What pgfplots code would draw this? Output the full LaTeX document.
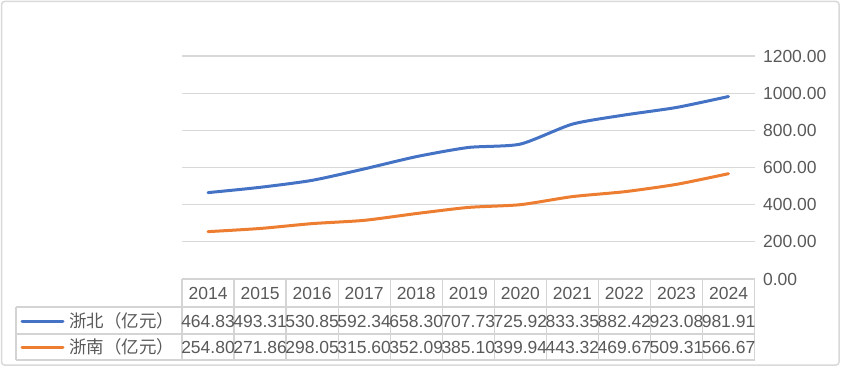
\documentclass[border=0pt]{standalone}
\usepackage{fontspec}
\setmainfont{Liberation Sans}
\newfontfamily\cjk{Noto Sans CJK SC}
\usepackage{pgfplots}
\pgfplotsset{compat=1.18}
\definecolor{cblue}{HTML}{4472C4}
\definecolor{corange}{HTML}{ED7D31}
\definecolor{txt}{HTML}{595959}
\definecolor{gridc}{HTML}{D9D9D9}
\definecolor{tabc}{HTML}{D4D4D4}
\newcommand{\fs}{\fontsize{17.5}{20}\selectfont}
\begin{document}
\begin{tikzpicture}
\path[use as bounding box] (0pt,0pt) rectangle (842pt,370pt);
\draw[gridc, line width=1.5pt, rounded corners=3pt] (1.5pt,368.5pt) rectangle (839pt,5pt);
\begin{axis}[at={(182pt,91pt)}, anchor=south west, scale only axis,
  width=572.5pt, height=223pt,
  xmin=-0.5, xmax=10.5, ymin=0, ymax=1200,
  ytick={0,200,400,600,800,1000,1200}, xtick=\empty,
  axis line style={draw=none}, major tick style={draw=none},
  ymajorgrids, grid style={gridc, line width=1.2pt},
  yticklabel pos=right,
  yticklabel style={font=\fs, text=txt, anchor=west, xshift=5pt},
  /pgf/number format/assume math mode=true,
  /pgf/number format/.cd, fixed, fixed zerofill, precision=2, 1000 sep={},
  ]
\addplot[cblue, line width=3pt, smooth, tension=0.4, line cap=round] coordinates {
(0,464.83) (1,493.31) (2,530.85) (3,592.34) (4,658.30) (5,707.73) (6,725.92) (7,833.35) (8,882.42) (9,923.08) (10,981.91)};
\addplot[corange, line width=3pt, smooth, tension=0.4, line cap=round] coordinates {
(0,254.80) (1,271.86) (2,298.05) (3,315.60) (4,352.09) (5,385.10) (6,399.94) (7,443.32) (8,469.67) (9,509.31) (10,566.67)};
\end{axis}
\begin{scope}[x=1pt,y=1pt]
\draw[tabc, line width=1.3pt] (182,91) -- (754.5,91);
\draw[tabc, line width=1.3pt] (16,63) -- (754.5,63);
\draw[tabc, line width=1.3pt] (16,36) -- (754.5,36);
\draw[tabc, line width=1.3pt] (16,10) -- (754.5,10);
\draw[tabc, line width=1.3pt] (16,63) -- (16,10);
\foreach \k in {0,...,11} {\draw[tabc, line width=1.3pt] ({182+52.05*\k},91) -- ({182+52.05*\k},10);}
\foreach \v [count=\i from 0] in {2014,2015,2016,2017,2018,2019,2020,2021,2022,2023,2024}
  {\node[inner sep=0, text=txt, font=\fs] at ({182+52.05*(\i+0.5)},76.7) {\v};}
\foreach \v [count=\i from 0] in {464.83,493.31,530.85,592.34,658.30,707.73,725.92,833.35,882.42,923.08,981.91}
  {\node[inner sep=0, text=txt, font=\fs] at ({182+52.05*(\i+0.5)},48.5) {\v};}
\foreach \v [count=\i from 0] in {254.80,271.86,298.05,315.60,352.09,385.10,399.94,443.32,469.67,509.31,566.67}
  {\node[inner sep=0, text=txt, font=\fs] at ({182+52.05*(\i+0.5)},23) {\v};}
\draw[cblue, line width=3pt, line cap=round] (22,49) -- (63,49);
\draw[corange, line width=3pt, line cap=round] (22,23) -- (63,23);
\node[inner sep=0, anchor=west, text=txt, font=\fs\cjk] at (69,49) {浙北（亿元）};
\node[inner sep=0, anchor=west, text=txt, font=\fs\cjk] at (69,23) {浙南（亿元）};
\end{scope}
\end{tikzpicture}
\end{document}
